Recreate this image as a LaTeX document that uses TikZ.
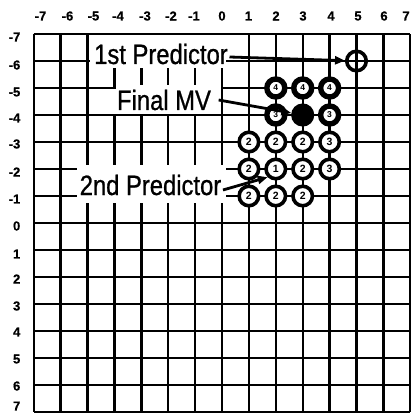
\documentclass[tikz,border=0pt]{standalone}
\usepackage{fontspec}
\setmainfont{Liberation Sans}
\newfontfamily\condfont[FakeStretch=0.85,FakeBold=0.8]{Liberation Sans}
\newfontfamily\axfont[FakeBold=0.6]{Liberation Sans Bold}
\usetikzlibrary{arrows.meta}
\begin{document}
\begin{tikzpicture}[x=1pt,y=-1pt,
  gridline/.style={line width=2.4pt},
  lab/.style={font=\condfont\fontsize{28}{30}\selectfont, inner sep=1.5pt, anchor=base},
  ax/.style={font=\axfont\fontsize{13}{14}\selectfont, inner sep=0pt},
  pt/.style={circle, draw, line width=3.6pt, fill=white, minimum size=19.5pt, inner sep=0pt, font=\bfseries\fontsize{10.5}{10.5}\selectfont},
  ptdark/.style={pt, line width=5.4pt, minimum size=18pt, font=\bfseries\fontsize{8.5}{8.5}\selectfont},
  finalpt/.style={pt, fill=black},
  firstpt/.style={circle, draw, line width=3.6pt, minimum size=19.5pt, inner sep=0pt},
  arr/.style={line width=2.8pt, -{Triangle[length=10pt,width=8pt]}}]
\useasboundingbox (0,0) rectangle (410,417);
\fill[white] (0,0) rectangle (410,417);
% grid
\foreach \c in {-7,...,7} \draw[gridline] ({222+26.9*\c},34) -- ({222+26.9*\c},412);
\foreach \r in {-7,...,7} \draw[gridline] (33.7,{223+27*\r}) -- (410.3,{223+27*\r});
% white label areas
\fill[white] (89.6,35.4) rectangle (226,68);
\fill[white] (113,89.4) rectangle (220.7,113.7);
\fill[white] (115.5,85) rectangle (220.7,113.7);
\fill[white] (77,165) rectangle (226,203);
% axis labels
\foreach \t/\x [count=\i] in {-7/40.5,-6/67.5,-5/93.5,-4/118,-3/145,-2/171,-1/194,0/222,1/248.5,2/276,3/303,4/331,5/358,6/384,7/406}
  \node[ax] (col\i) at (\x,16) {\t};
\foreach \t/\y [count=\i] in {-7/37,-6/65,-5/92,-4/118,-3/144,-2/172,-1/199,0/226,1/254,2/279,3/306,4/332,5/359,6/386,7/406}
  \node[ax, anchor=east] (row\i) at (20.5,\y) {\t};
% labels
\node[lab] (l1) at (161,64) {1st Predictor};
\node[lab] (l2) at (164,110) {Final MV};
\node[lab] (l3) at (150.5,195) {2nd Predictor};
% search points
\node[firstpt] (p5m6) at ({222+26.9*5},{223-27*6}) {};
\node[ptdark] (p2m5) at ({222+26.9*2},{223-27*5}) {4};
\node[ptdark] (p3m5) at ({222+26.9*3},{223-27*5}) {4};
\node[ptdark] (p4m5) at ({222+26.9*4},{223-27*5}) {4};
\node[ptdark] (p2m4) at ({222+26.9*2},{223-27*4}) {3};
\node[finalpt] (p3m4) at ({222+26.9*3},{223-27*4}) {};
\node[ptdark] (p4m4) at ({222+26.9*4},{223-27*4}) {3};
\node[pt] (p1m3) at ({222+26.9*1},{223-27*3}) {2};
\node[pt] (p2m3) at ({222+26.9*2},{223-27*3}) {2};
\node[pt] (p3m3) at ({222+26.9*3},{223-27*3}) {2};
\node[pt] (p4m3) at ({222+26.9*4},{223-27*3}) {3};
\node[pt] (p1m2) at ({222+26.9*1},{223-27*2}) {2};
\node[pt] (p2m2) at ({222+26.9*2},{223-27*2}) {1};
\node[pt] (p3m2) at ({222+26.9*3},{223-27*2}) {2};
\node[pt] (p4m2) at ({222+26.9*4},{223-27*2}) {3};
\node[pt] (p1m1) at ({222+26.9*1},{223-27*1}) {2};
\node[pt] (p2m1) at ({222+26.9*2},{223-27*1}) {2};
\node[pt] (p3m1) at ({222+26.9*3},{223-27*1}) {2};
% connectors
\draw[arr] ([yshift=-3pt]l1.east) -- (p5m6);
\draw[arr] ([xshift=6pt]l2.east) -- (p3m4);
\draw[arr] ([yshift=-5pt]l3.east) -- (p2m2.225);
\end{tikzpicture}
\end{document}
